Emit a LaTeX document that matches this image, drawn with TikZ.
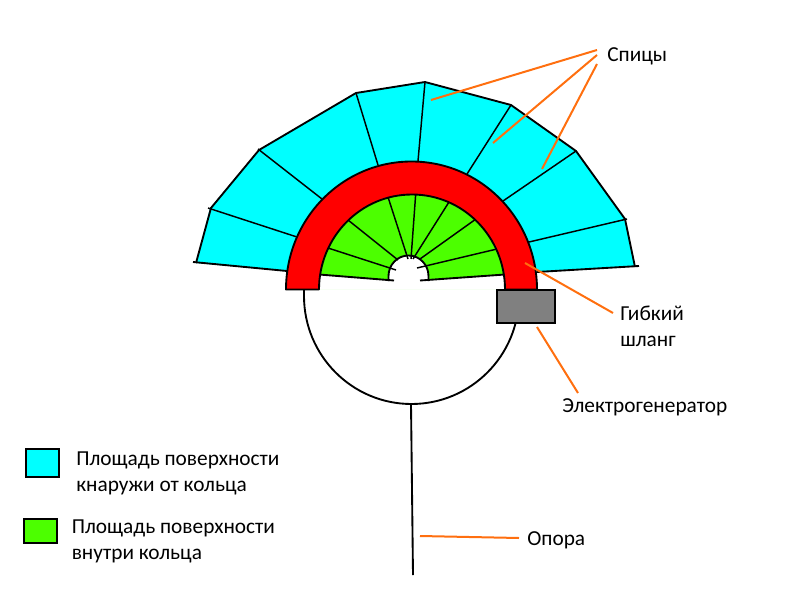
\documentclass[tikz,border=0pt]{standalone}
\usepackage{fontspec}
\setmainfont{Carlito}
\tikzset{
  px/.style={x=0.75pt,y=-0.75pt},
  outline/.style={draw=black,line width=1.4pt,line join=round},
  spoke/.style={draw=black,line width=1.1pt},
  leader/.style={draw=orange1,line width=1.5pt},
  lbl/.style={font=\fontsize{16}{19.5}\selectfont,text=black,inner sep=0pt,align=left,anchor=west},
}
\definecolor{orange1}{HTML}{FF6F0F}
\definecolor{cyan1}{HTML}{00FFFF}
\definecolor{green1}{HTML}{4CFF00}
\definecolor{gray1}{HTML}{808080}
\begin{document}
\begin{tikzpicture}[px]
\useasboundingbox (0,0) rectangle (800,600);
% cyan sail
\fill[cyan1] (196,263) -- (287,271) -- (412,200) -- (537,272) -- (635,266) -- (625,219) -- (576,151) -- (511,105) -- (425,82) -- (356,93) -- (259,150) -- (210,208) -- cycle;
\draw[outline] (193,262) -- (287,271);
\draw[outline] (196,263) -- (211,208) -- (259,150) -- (356,93) -- (425,82) -- (511,105) -- (576,151) -- (625,219) -- (635,267);
\draw[outline] (537,272) -- (639,266);
\draw[spoke] (208,208) -- (297,237);
\draw[spoke] (258,149) -- (322,199);
\draw[spoke] (356,93) -- (378,165);
\draw[spoke] (425,82) -- (418,161);
\draw[spoke] (511,105) -- (467,174);
\draw[spoke] (576,151) -- (503,201);
\draw[spoke] (627,219) -- (529,242);
% green inner sail
\fill[green1] (307,289) arc[start angle=180,end angle=360,x radius=105,y radius=107] -- cycle;
\fill[white] (310,273.8) -- (394,280.7) -- (420,280.7) -- (514,273.8) -- (514,289.5) -- (310,289.5) -- cycle;
% hole in the middle
\fill[white] (388,282) -- (388,276) arc[start angle=180,end angle=360,x radius=20.5,y radius=21] -- (429,282) -- cycle;
\draw[outline] (388.5,281) -- (388.5,276) arc[start angle=180,end angle=360,x radius=20,y radius=20.5] -- (428.5,281);
\draw[outline] (319,274.5) -- (394,280.5);
\draw[outline] (420,280.5) -- (505,274.5);
\draw[spoke] (328,248) -- (396,270);
\draw[spoke] (348,220) -- (398,260);
\draw[spoke] (388,197) -- (408,259);
\draw[spoke] (415.7,194) -- (411,259);
\draw[spoke] (449,202) -- (413,259);
\draw[spoke] (476,219) -- (420,259);
\draw[spoke] (497,249) -- (417,268);
% red ring
\draw[outline,fill=red] (286,289.5) arc[start angle=180,end angle=360,x radius=125.5,y radius=128] -- (505,289.5) arc[start angle=360,end angle=180,x radius=93,y radius=95] -- cycle;
% lower circle and support
\draw[line width=1.4pt] (304,289) -- (304,296) arc[start angle=180,end angle=0,x radius=107.5,y radius=108];
\draw[line width=1.4pt] (411,404) -- (413,575);
% generator
\node[draw=black,line width=1.5pt,fill=gray1,minimum width=43.5pt,minimum height=24.5pt,inner sep=0pt,anchor=north west] (gen) at (496,289) {};
% labels
\node[lbl] (spokes) at (607,56) {Спицы};
\node[lbl] (hose) at (620,326) {Гибкий\\шланг};
\node[lbl] (egen) at (562,407) {Электрогенератор};
\node[lbl] (mast) at (527,540) {Опора};
\node[lbl] (lego) at (76,473) {Площадь поверхности\\кнаружи от кольца};
\node[lbl] (legi) at (71.5,541) {Площадь поверхности\\внутри кольца};
% legend swatches
\node[draw=black,line width=1.4pt,fill=cyan1,minimum width=24.5pt,minimum height=21pt,inner sep=0pt,anchor=north west] (swo) at (25,448) {};
\node[draw=black,line width=1.4pt,fill=green1,minimum width=25pt,minimum height=18pt,inner sep=0pt,anchor=north west] (swi) at (23,518) {};
% leaders
\coordinate (s1) at (431,100);
\coordinate (s2) at (493,143);
\coordinate (s3) at (542,169);
\coordinate (sa) at (597,50);
\coordinate (sb) at (597,55);
\coordinate (sc) at (597,64);
\coordinate (h1) at (525,263);
\coordinate (h2) at (613,313);
\coordinate (e1) at (537,327);
\coordinate (e2) at (578,393);
\coordinate (m1) at (420,536);
\coordinate (m2) at (519,538);
\draw[leader] (s1) -- (sa);
\draw[leader] (s2) -- (sb);
\draw[leader] (s3) -- (sc);
\draw[leader] (h1) -- (h2);
\draw[leader] (e1) -- (e2);
\draw[leader] (m1) -- (m2);
\end{tikzpicture}
\end{document}
